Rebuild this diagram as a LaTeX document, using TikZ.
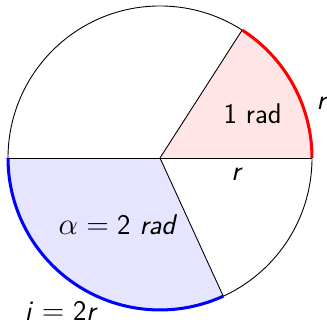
\documentclass[tikz,border=0pt]{standalone}
\begin{document}
\begin{tikzpicture}[
  lbl/.style={font=\sffamily\fontsize{16}{19}\selectfont, inner sep=1pt},
  thinline/.style={line width=0.5pt, black},
  arcline/.style={line width=1.7pt}
]
\useasboundingbox (-3.158,-3.237) rectangle (3.296,3.118);
\def\R{3}
\coordinate (O) at (0,0);
% sectors
\fill[red!10] (O) -- (0:\R) arc[start angle=0, end angle=57.2958, radius=\R] -- cycle;
\fill[blue!10] (O) -- (180:\R) arc[start angle=180, end angle=294.5916, radius=\R] -- cycle;
% circle and radii
\draw[thinline] (O) circle[radius=\R];
\coordinate (E) at (0:\R);
\coordinate (W) at (180:\R);
\coordinate (A) at (57.2958:\R);
\coordinate (B) at (294.5916:\R);
\draw[thinline] (W) -- (E);
\draw[thinline] (O) -- (A);
\draw[thinline] (O) -- (B);
% arcs
\draw[arcline, red] (E) arc[start angle=0, end angle=57.2958, radius=\R];
\draw[arcline, blue] (W) arc[start angle=180, end angle=294.5916, radius=\R];
% labels
\node[lbl] (l1) at (1.83,0.88) {1 rad};
\node[lbl] (lr1) at (3.18,1.08) {\itshape r};
\node[lbl] (lr2) at (1.5,-0.33) {\itshape r};
\node[lbl] (la) at (-0.85,-1.32) {$\alpha=\textsf{2}$ \itshape rad};
\node[lbl] (li) at (-1.97,-3.02) {\itshape i\/ $=$ \upshape 2\itshape r};
\end{tikzpicture}
\end{document}
